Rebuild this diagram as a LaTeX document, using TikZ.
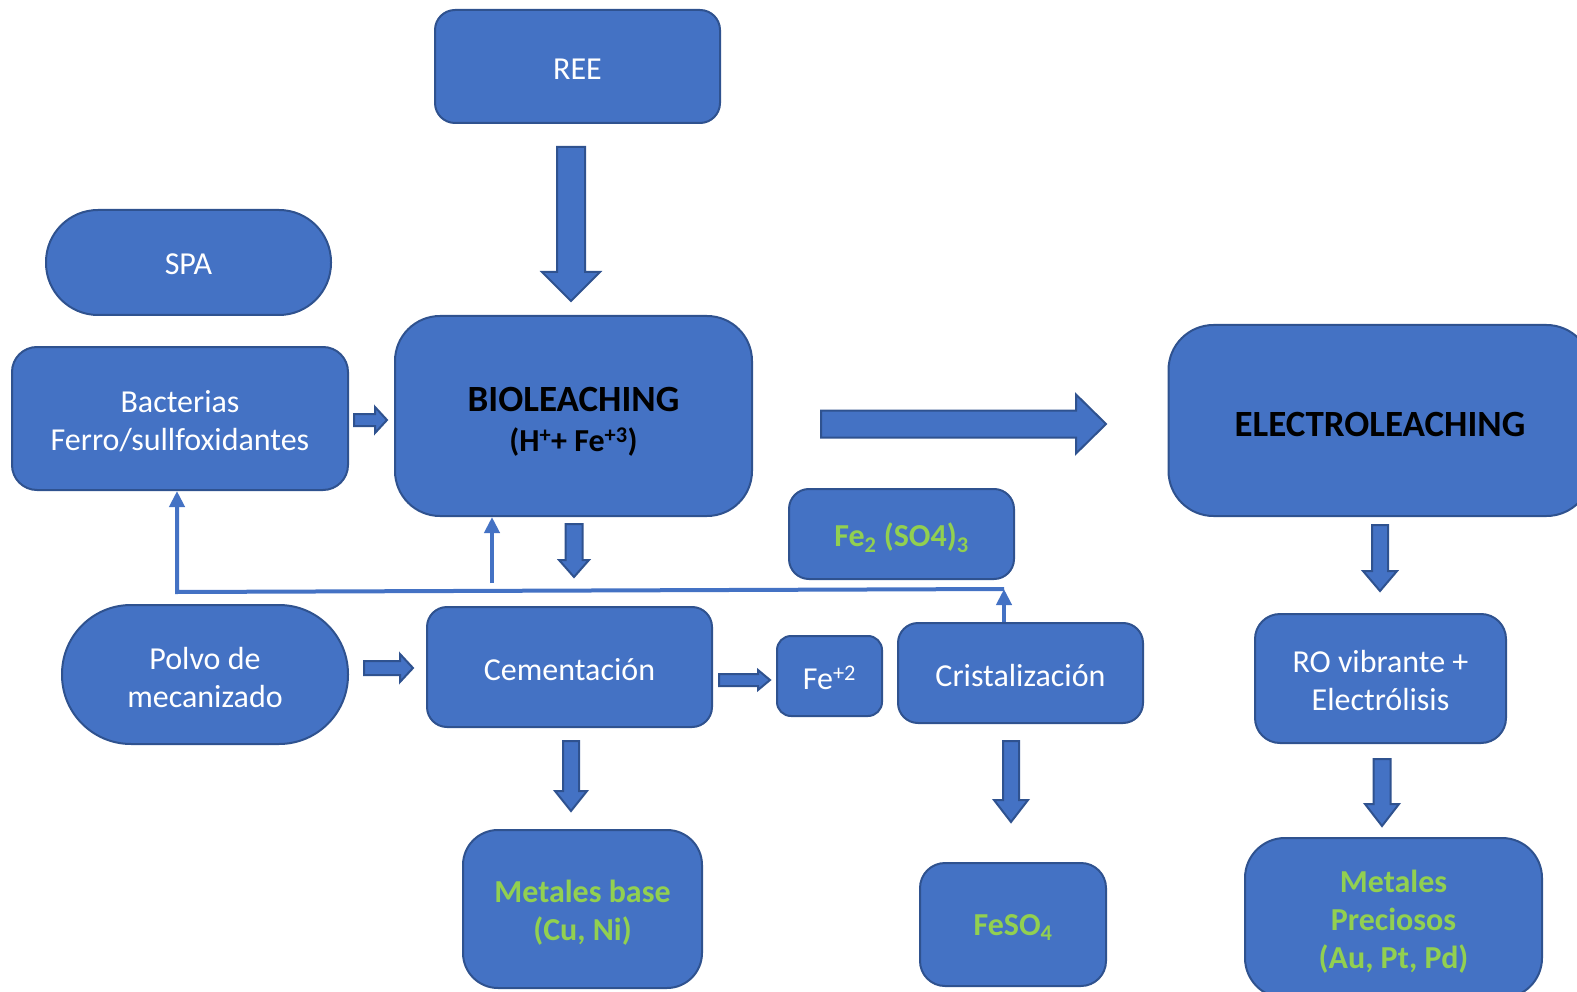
\documentclass[tikz,border=0pt]{standalone}
\usepackage{fontspec}
\setmainfont{Carlito}
\usetikzlibrary{arrows.meta}

\definecolor{blu}{HTML}{4472C4}
\definecolor{bdr}{HTML}{2F528F}
\definecolor{grn}{HTML}{92D050}

\newcommand\regtxt{\fontsize{32}{38}\selectfont}
\newcommand\ttltxt{\fontsize{37}{44}\selectfont\bfseries}

% block arrow pointing down: x, top, tip, half shaft, half head, head length
\newcommand\fatdn[6]{\draw[fat] ({#1-#4},#2) -- ({#1+#4},#2) -- ({#1+#4},{#3-#6}) -- ({#1+#5},{#3-#6}) -- (#1,#3) -- ({#1-#5},{#3-#6}) -- ({#1-#4},{#3-#6}) -- cycle;}
% block arrow pointing right: start x, tip x, y, half shaft, half head, head length
\newcommand\fatrt[6]{\draw[fat] (#1,{#3-#4}) -- ({#2-#6},{#3-#4}) -- ({#2-#6},{#3-#5}) -- (#2,#3) -- ({#2-#6},{#3+#5}) -- ({#2-#6},{#3+#4}) -- (#1,{#3+#4}) -- cycle;}

\tikzset{
  box/.style={draw=bdr, fill=blu, line width=2pt, inner sep=0pt},
  lbl/.style={text=white, align=center, font=\regtxt, inner sep=0pt},
  dark/.style={lbl, text=black},
  prod/.style={lbl, text=grn, font=\regtxt\bfseries},
  fat/.style={draw=bdr, fill=blu, line width=2pt, line join=miter},
  link/.style={draw=blu, line width=4pt, -{Triangle[width=15pt,length=16pt]}},
}

\begin{document}
\begin{tikzpicture}[x=1pt,y=-1pt]
\useasboundingbox (0,0) rectangle (1577,992);

% process boxes
\node[box, minimum width=285, minimum height=113, rounded corners=20] (ree) at (577.5,66.5) {};
\node[box, minimum width=285, minimum height=105, rounded corners=52] (spa) at (188.5,262.5) {};
\node[box, minimum width=336, minimum height=143, rounded corners=25] (bact) at (180,418.5) {};
\node[box, minimum width=357, minimum height=200, rounded corners=45] (bio) at (573.5,416) {};
\node[box, minimum width=423, minimum height=191, rounded corners=45] (elec) at (1380,420.5) {};
\node[box, minimum width=225, minimum height=90, rounded corners=20] (fe3) at (901.5,534) {};
\node[box, minimum width=286, minimum height=139, rounded corners=69] (polvo) at (205,674.5) {};
\node[box, minimum width=285, minimum height=120, rounded corners=20] (cem) at (569.5,667) {};
\node[box, minimum width=105, minimum height=80, rounded corners=14] (fe2) at (829.5,676) {};
\node[box, minimum width=245, minimum height=100, rounded corners=20] (crist) at (1020.5,673) {};
\node[box, minimum width=251, minimum height=129, rounded corners=25] (ro) at (1380.5,678.5) {};
\node[box, minimum width=239, minimum height=158, rounded corners=35] (mbase) at (582.5,909) {};
\node[box, minimum width=186, minimum height=123, rounded corners=25] (feso) at (1013,924.5) {};
\node[box, minimum width=297, minimum height=160, rounded corners=40] (prec) at (1393.5,918) {};

% box texts
\node[lbl] (reeT) at ([yshift=-3pt]ree) {REE};
\node[lbl] (spaT) at ([yshift=-2pt]spa) {SPA};
\node[lbl] (bactT) at ([yshift=-2.5pt]bact) {Bacterias\\Ferro/sullfoxidantes};
\node[dark] (bioT) at ([yshift=-5.5pt]bio)
  {{\ttltxt BIOLEACHING}\\[2pt]{\regtxt\bfseries (H\textsuperscript{+}+ Fe\textsuperscript{+3})}};
\node[dark, font=\ttltxt] (elecT) at ([yshift=-4pt]elec) {ELECTROLEACHING};
\node[prod] (fe3T) at ([yshift=-4pt]fe3) {Fe\textsubscript{2} (SO4)\textsubscript{3}};
\node[lbl] (polvoT) at ([yshift=-3pt]polvo) {Polvo de\\mecanizado};
\node[lbl] (cemT) at ([yshift=-3pt]cem) {Cementación};
\node[lbl] (fe2T) at ([yshift=-2pt]fe2) {Fe\textsuperscript{+2}};
\node[lbl] (cristT) at ([yshift=-3pt]crist) {Cristalización};
\node[lbl] (roT) at ([yshift=-2.5pt]ro) {RO vibrante +\\Electrólisis};
\node[prod] (mbaseT) at ([yshift=-3.5pt]mbase) {Metales base\\(Cu, Ni)};
\node[prod] (fesoT) at ([yshift=-3pt]feso) {FeSO\textsubscript{4}};
\node[prod] (precT) at ([yshift=-3.5pt]prec) {Metales\\Preciosos\\(Au, Pt, Pd)};

% block arrows
\fatdn{571}{147}{301}{14}{29}{29}
\fatrt{354}{387}{420}{6}{13}{12}
\fatrt{821}{1106}{424}{13.5}{29.5}{30}
\fatdn{574}{524}{577}{8.5}{15}{17}
\fatrt{364}{413}{668}{7}{14}{13}
\fatrt{719}{770}{680}{6}{10}{12}
\fatdn{571}{741}{811}{8}{16}{20}
\fatdn{1011}{741}{822}{8}{17}{22}
\fatdn{1380}{525}{591}{8}{17}{20}
\fatdn{1382}{759}{826}{8.5}{17}{22}

% recirculation lines
\coordinate (jR) at (1004,589);
\coordinate (jL) at (177,592);
\coordinate (mid) at (492,583);
\draw[link] (crist.north -| jR) -- (jR);
\draw[link] (jR) -- (jL) -- (jL |- bact.south);
\draw[link] (mid) -- (mid |- bio.south);
\end{tikzpicture}
\end{document}
